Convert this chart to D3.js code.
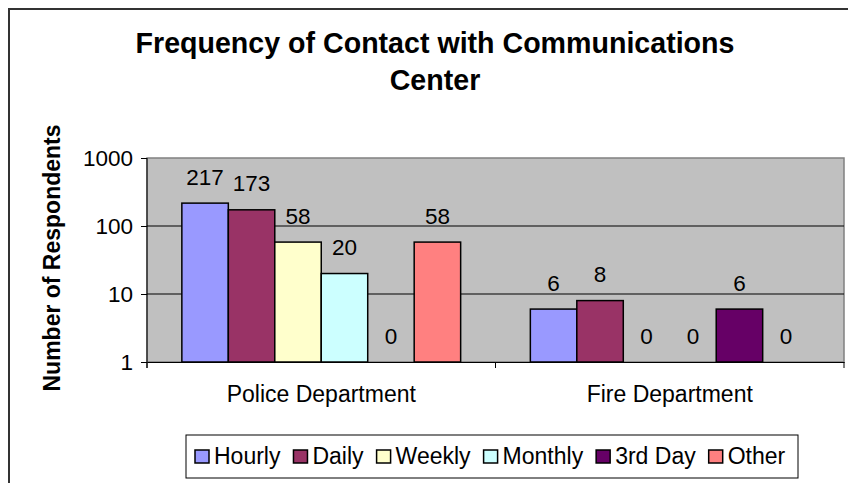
<!DOCTYPE html>
<html><head><meta charset="utf-8">
<script src="https://cdn.jsdelivr.net/npm/d3@7"></script>
<style>body{margin:0;background:#fff}svg{display:block}text{font-family:"Liberation Sans",Arial,sans-serif}</style>
</head><body><svg id="c" width="848" height="483"></svg>
<script>
const categories = ["Police Department", "Fire Department"];
const seriesNames = ["Hourly", "Daily", "Weekly", "Monthly", "3rd Day", "Other"];
const hourly  = [217, 6];
const daily   = [173, 8];
const weekly  = [58, 0];
const monthly = [20, 0];
const thirdDay = [0, 6];
const other   = [58, 0];
const seriesColors = ["#9999FF", "#993366", "#FFFFCC", "#CCFFFF", "#660066", "#FF8080"];
const yTicks = [1, 10, 100, 1000];
const titleLines = ["Frequency of Contact with Communications", "Center"];
const yTitle = "Number of Respondents";

const seriesValues = [hourly, daily, weekly, monthly, thirdDay, other];
const svg = d3.select("#c");

// outer chart border
svg.append("rect").attr("x", 9).attr("y", 9).attr("width", 900).attr("height", 600)
  .attr("fill", "#fff").attr("stroke", "#333").attr("stroke-width", 2);

const plot = {l: 147, r: 844, t: 158, b: 362};
const x0 = d3.scaleBand().domain(categories).range([plot.l, plot.r]).padding(0);
const x1 = d3.scaleBand().domain(seriesNames).range([0, x0.bandwidth()]).paddingInner(0).paddingOuter(0.75);
const y = d3.scaleLog().domain([1, 1000]).range([plot.b, plot.t]);

// plot background
svg.append("rect").attr("x", plot.l).attr("y", plot.t).attr("width", plot.r - plot.l).attr("height", plot.b - plot.t)
  .attr("fill", "#C0C0C0").attr("stroke", "#808080").attr("stroke-width", 1.5);

// gridlines
svg.append("g").selectAll("line").data(yTicks.filter(v => v > 1 && v < 1000)).join("line")
  .attr("x1", plot.l).attr("x2", plot.r).attr("y1", d => y(d)).attr("y2", d => y(d))
  .attr("stroke", "#000").attr("stroke-width", 1);

// bars
const bars = [];
categories.forEach((c, ci) => seriesNames.forEach((s, si) => bars.push({c, s, si, v: seriesValues[si][ci]})));
svg.append("g").selectAll("rect").data(bars.filter(d => d.v > 0)).join("rect")
  .attr("x", d => x0(d.c) + x1(d.s)).attr("width", x1.bandwidth())
  .attr("y", d => y(d.v)).attr("height", d => plot.b - y(d.v))
  .attr("fill", d => seriesColors[d.si]).attr("stroke", "#000").attr("stroke-width", 1.5);

// data labels
svg.append("g").selectAll("text").data(bars).join("text")
  .attr("x", d => x0(d.c) + x1(d.s) + x1.bandwidth() / 2)
  .attr("y", d => (d.v > 0 ? y(d.v) : plot.b) - 18.5)
  .attr("text-anchor", "middle").attr("font-size", 22.5).attr("fill", "#000")
  .text(d => d.v);

// y axis
const yAxis = d3.axisLeft(y).tickValues(yTicks).tickFormat(d3.format("d")).tickSize(6).tickPadding(8);
const ga = svg.append("g").attr("transform", `translate(${plot.l},0)`).call(yAxis);
ga.select(".domain").attr("stroke", "#000").attr("d", `M-0,${plot.t}V${plot.b + 6}`);
ga.selectAll(".tick line").attr("stroke", "#000");
ga.selectAll(".tick text").attr("font-size", 22.5).attr("font-family", "Liberation Sans, Arial, sans-serif").attr("fill", "#000");

// x axis
const xAxis = d3.axisBottom(x0).tickSize(0).tickPadding(24);
const gx = svg.append("g").attr("transform", `translate(0,${plot.b})`).call(xAxis);
gx.select(".domain").attr("stroke", "#000");
gx.selectAll(".tick text").attr("font-size", 23).attr("font-family", "Liberation Sans, Arial, sans-serif").attr("fill", "#000");
const bounds = [plot.l, ...categories.map(c => x0(c) + x0.bandwidth())];
svg.append("g").selectAll("line").data(bounds).join("line")
  .attr("x1", d => d).attr("x2", d => d).attr("y1", plot.b).attr("y2", plot.b + 6).attr("stroke", "#000");

// title
svg.append("text").attr("x", 435).attr("y", 53).attr("text-anchor", "middle")
  .attr("font-size", 28.6).attr("font-weight", "bold").selectAll("tspan").data(titleLines).join("tspan")
  .attr("x", 435).attr("dy", (d, i) => i ? 37 : 0).text(d => d);

// y title
svg.append("text").attr("transform", `translate(60,${(plot.t + plot.b) / 2 - 2}) rotate(-90)`)
  .attr("text-anchor", "middle").attr("font-size", 23).attr("font-weight", "bold").text(yTitle);

// legend
const lg = svg.append("g");
lg.append("rect").attr("x", 186).attr("y", 435).attr("width", 612).attr("height", 43)
  .attr("fill", "#fff").attr("stroke", "#000").attr("stroke-width", 1);
let lx = 195;
seriesNames.forEach((s, i) => {
  lg.append("rect").attr("x", lx).attr("y", 450).attr("width", 14).attr("height", 13)
    .attr("fill", seriesColors[i]).attr("stroke", "#000").attr("stroke-width", 1.5);
  const t = lg.append("text").attr("x", lx + 19).attr("y", 464).attr("font-size", 23).text(s);
  lx += 19 + t.node().getComputedTextLength() + 13;
});
</script></body></html>
